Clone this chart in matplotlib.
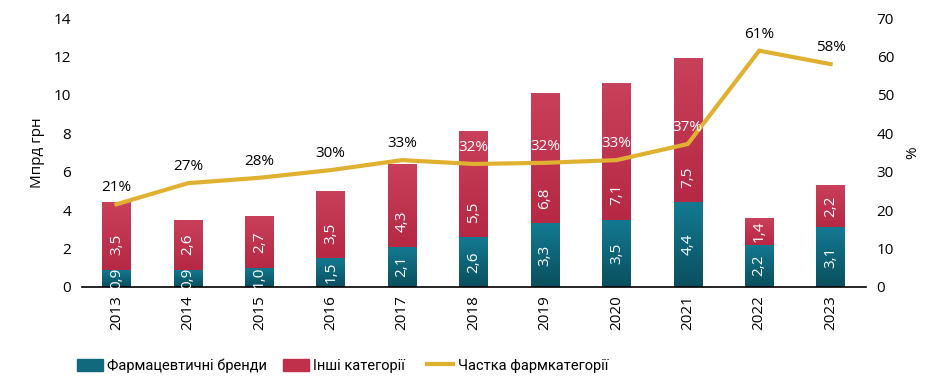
import matplotlib.pyplot as plt
import numpy as np
from matplotlib.colors import LinearSegmentedColormap
from matplotlib.lines import Line2D
from matplotlib.patches import Patch

years = ['2013', '2014', '2015', '2016', '2017', '2018', '2019', '2020', '2021', '2022', '2023']
pharma = [0.9, 0.9, 1.0, 1.5, 2.1, 2.6, 3.3, 3.5, 4.4, 2.2, 3.1]
other = [3.5, 2.6, 2.7, 3.5, 4.3, 5.5, 6.8, 7.1, 7.5, 1.4, 2.2]
share = [21.5, 27, 28.4, 30.4, 33, 32, 32.3, 33, 37.2, 61.5, 58]
share_labels = ['21%', '27%', '28%', '30%', '33%', '32%', '32%', '33%', '37%', '61%', '58%']

teal = '#10697d'
red = '#c0304b'
gold = '#e0b030'
teal_cm = LinearSegmentedColormap.from_list('t', ['#0a4f5e', '#137a92'])
red_cm = LinearSegmentedColormap.from_list('r', ['#b62844', '#c9405b'])

plt.rcParams['font.family'] = ['Open Sans', 'DejaVu Sans']

fig = plt.figure(figsize=(9.45, 3.84), dpi=100)
ax = fig.add_axes([0.087, 0.253, 0.829, 0.70])
ax2 = ax.twinx()

x = list(range(len(years)))
w = 0.4
grad = np.linspace(0, 1, 100).reshape(-1, 1)


def gradient_bars(bars, cmap):
    # fill every bar with a vertical gradient clipped to its shape
    for b in bars:
        x0, y0 = b.get_x(), b.get_y()
        im = ax.imshow(grad, cmap=cmap, origin='lower', aspect='auto', zorder=2,
                       extent=(x0, x0 + b.get_width(), y0, y0 + b.get_height()))
        im.set_clip_path(b)
        b.set_facecolor('none')


b1 = ax.bar(x, pharma, w, color=teal, zorder=2, edgecolor='none')
b2 = ax.bar(x, other, w, bottom=pharma, color=red, zorder=2, edgecolor='none')
gradient_bars(b1, teal_cm)
gradient_bars(b2, red_cm)

for i in x:
    ax.text(i, pharma[i] / 2, f'{pharma[i]:.1f}'.replace('.', ','), rotation=90,
            ha='center', va='center', color='white', fontsize=11, zorder=3)
    ax.text(i, pharma[i] + min(other[i] / 2, 1.3), f'{other[i]:.1f}'.replace('.', ','),
            rotation=90, ha='center', va='center', color='white', fontsize=11, zorder=3)

ax2.plot(x, share, color=gold, lw=3, zorder=4, solid_joinstyle='miter')
for i in x:
    top = (pharma[i] + other[i]) * 5
    c = 'white' if share[i] + 5 < top else 'black'
    ax2.text(i, share[i] + 2.3, share_labels[i], ha='center', va='bottom',
             fontsize=11, color=c, zorder=5)

ax.set_xlim(-0.48, 10.49)
ax.set_ylim(0, 14)
ax2.set_ylim(0, 70)
ax.set_yticks(range(0, 15, 2))
ax2.set_yticks(range(0, 71, 10))
ax.set_xticks(x)
ax.set_xticklabels(years, rotation=90, fontsize=11)
ax.tick_params(axis='y', length=0, labelsize=11, pad=8)
ax2.tick_params(axis='y', length=0, labelsize=11, pad=8)
ax.tick_params(axis='x', length=0, pad=6)
for a in (ax, ax2):
    for s in ('top', 'left', 'right'):
        a.spines[s].set_visible(False)
ax2.spines['bottom'].set_visible(False)
ax.spines['bottom'].set_color('black')
ax.spines['bottom'].set_linewidth(1.2)

ax.set_ylabel('Мпрд грн', fontsize=11, labelpad=6)
ax2.set_ylabel('%', fontsize=11, labelpad=8)
ax2.set_zorder(ax.get_zorder() + 1)
ax2.patch.set_visible(False)

handles = [Patch(color=teal), Patch(color=red), Line2D([], [], color=gold, lw=3)]
names = ['Фармацевтичні бренди', 'Інші категорії', 'Частка фармкатегорії']
lx = [0.081, 0.299, 0.452]
for h, n, px in zip(handles, names, lx):
    fig.legend([h], [n], loc='center left', bbox_to_anchor=(px, 0.047), frameon=False,
               prop={'family': ['Roboto', 'DejaVu Sans'], 'size': 10.5},
               handlelength=1.8, handleheight=0.9, handletextpad=0.3, borderpad=0,
               borderaxespad=0)

fig.savefig('out.png', dpi=100)
